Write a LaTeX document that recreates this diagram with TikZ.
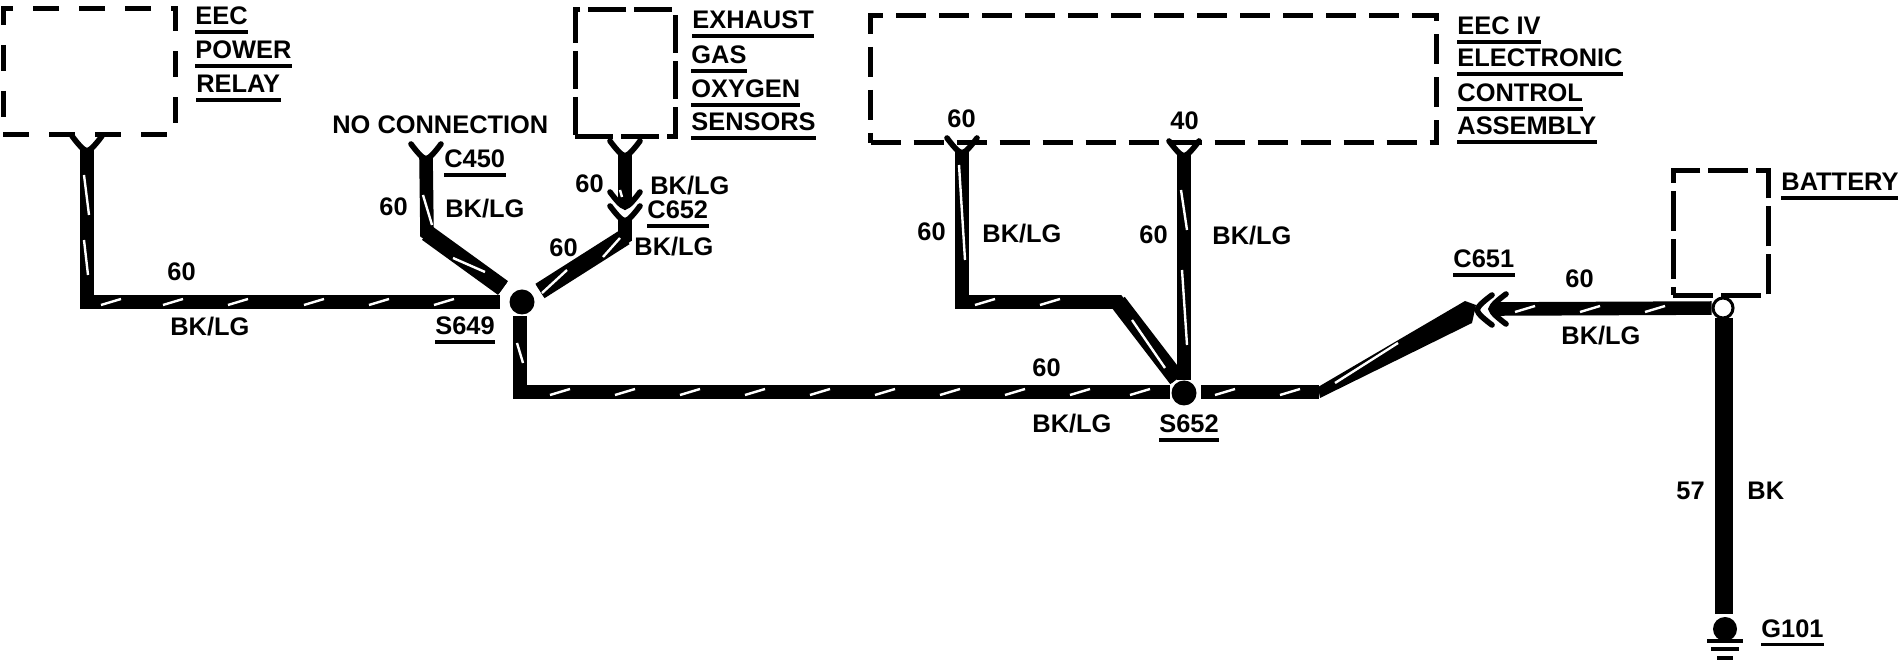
\documentclass[tikz,border=0pt]{standalone}
\usepackage{fontspec}
\setmainfont{Liberation Sans}
\tikzset{
  lbl/.style={font=\bfseries\fontsize{12.7}{14}\selectfont, anchor=base west, inner sep=0pt},
  ulbl/.style={lbl, inner ysep=3.4pt, text depth=0pt,
    append after command={(\tikzlastnode.south west) edge[draw, line width=1.7pt] (\tikzlastnode.south east)}},
  unit/.style={draw, line width=2.5pt, inner sep=0pt},
  wire/.style={line width=6.8pt},
  diag/.style={line width=8.5pt},
  stripe/.style={white, line width=1.2pt},
  dot/.style={circle, fill=black, inner sep=0pt, minimum size=12.5pt},
  fork/.pic={\draw[line width=2.8pt, line cap=round] (-15,-12) .. controls (-9,-4) and (-4,2) .. (0,3) .. controls (4,2) and (9,-4) .. (15,-12);}
}
\begin{document}
\begin{tikzpicture}[x=0.5pt, y=-0.5pt]
\useasboundingbox (0,0) rectangle (1898,672);

\node[unit, dash pattern=on 13pt off 10pt, minimum width=86pt, minimum height=63pt] (relay) at (89,72) {};
\node[unit, dash pattern=on 19pt off 4pt, minimum width=50pt, minimum height=63.5pt] (sensors) at (625,73.5) {};
\node[unit, dash pattern=on 15pt off 6.5pt, minimum width=283pt, minimum height=63.5pt] (eec) at (1153.5,79.5) {};
\node[unit, dash pattern=on 20pt off 4pt, minimum width=47.5pt, minimum height=62.5pt] (battery) at (1720.5,233) {};

\node[ulbl] (t1) at (195,25) {EEC};
\node[ulbl] (t2) at (195,59) {POWER};
\node[ulbl] (t3) at (196,93) {RELAY};
\node[ulbl] (t4) at (692,29) {EXHAUST};
\node[ulbl] (t5) at (691,64) {GAS};
\node[ulbl] (t6) at (691,98) {OXYGEN};
\node[ulbl] (t7) at (691,131) {SENSORS};
\node[ulbl] (t8) at (1457,35) {EEC IV};
\node[ulbl] (t9) at (1457,67) {ELECTRONIC};
\node[ulbl] (t10) at (1457,102) {CONTROL};
\node[ulbl] (t11) at (1457,135) {ASSEMBLY};
\node[ulbl] (t12) at (1781,191) {BATTERY};
\node[lbl] (nc) at (332,134) {NO CONNECTION};
\node[ulbl] (c450) at (444,168) {C450};
\node[ulbl] (c652) at (647,219) {C652};
\node[ulbl] (c651) at (1453,268) {C651};
\node[ulbl] (s649) at (435,335) {S649};
\node[ulbl] (s652) at (1159,433) {S652};
\node[ulbl] (g101) at (1761,637) {G101};

% numbers and colours
\node[lbl] (n1) at (167,281) {60};
\node[lbl] (b1) at (170,336) {BK/LG};
\node[lbl] (n2) at (379,216) {60};
\node[lbl] (b2) at (445,218) {BK/LG};
\node[lbl] (n3) at (575,193) {60};
\node[lbl] (b3) at (650,195) {BK/LG};
\node[lbl] (n4) at (549,257) {60};
\node[lbl] (b4) at (634,256) {BK/LG};
\node[lbl] (n5) at (947,128) {60};
\node[lbl] (n6) at (1170,130) {40};
\node[lbl] (n7) at (917,241) {60};
\node[lbl] (b7) at (982,243) {BK/LG};
\node[lbl] (n8) at (1139,244) {60};
\node[lbl] (b8) at (1212,245) {BK/LG};
\node[lbl] (n9) at (1032,377) {60};
\node[lbl] (b9) at (1032,433) {BK/LG};
\node[lbl] (n10) at (1565,288) {60};
\node[lbl] (b10) at (1561,345) {BK/LG};
\node[lbl] (n11) at (1676,500) {57};
\node[lbl] (b11) at (1747,500) {BK};

\node[dot] (j649) at (522,302) {};
\node[dot] (j652) at (1184,393) {};
\node[circle, draw, fill=white, line width=1.5pt, inner sep=0pt, minimum size=10pt] (jbat) at (1723,308) {};
\node[dot, minimum size=12pt] (gnd) at (1725,629) {};

\coordinate (relayend) at (87,148);
\coordinate (relaybend) at (87,302);
\coordinate (leftend) at (500,302);
\coordinate (c450end) at (426,156);
\coordinate (c450bend) at (427,233);
\coordinate (c450in) at (503,288);
\coordinate (upperend) at (625,153);
\coordinate (upperin) at (625,204);
\coordinate (lowerend) at (625,218);
\coordinate (lowerbend) at (625,237);
\coordinate (lowerin) at (540,291);
\coordinate (midstart) at (520,316);
\coordinate (midbend) at (520,392);
\coordinate (midend) at (1170,392);
\coordinate (eec60end) at (962,150);
\coordinate (eec60a) at (962,302);
\coordinate (eec60b) at (1118,302);
\coordinate (eec60in) at (1177,379);
\coordinate (eec40end) at (1184,153);
\coordinate (eec40in) at (1184,380);
\coordinate (rightstart) at (1201,392);
\coordinate (rightbend) at (1319,392);
\coordinate (rightin) at (1470,312);
\coordinate (c651end) at (1494,309);
\coordinate (batstart) at (1724,318);
\coordinate (batend) at (1724,614);

\draw[wire] (relayend) -- (relaybend) -- (leftend);
\draw[wire] (c450end) -- (c450bend) -- (c450in);
\draw[diag] (c450bend) -- (c450in);
\draw[wire] (upperend) -- (upperin);
\draw[wire] (lowerend) -- (lowerbend) -- (lowerin);
\draw[diag] (lowerbend) -- (lowerin);
\draw[wire] (midstart) -- (midbend) -- (midend);
\draw[wire] (eec60end) -- (eec60a) -- (eec60b) -- (eec60in);
\draw[diag] (eec60b) -- (eec60in);
\draw[wire] (eec40end) -- (eec40in);
\draw[wire] (rightstart) -- (rightbend);
\fill (rightbend) ++(-1,-5) -- (1465,301) -- (1476,305) -- (1472,323) -- (1320,398) -- cycle;
\draw[wire] (c651end) -- (jbat);
\draw[line width=9pt] (batstart) -- (batend);

\pic at (relayend) {fork};
\pic at (c450end) {fork};
\pic at (upperend) {fork};
\pic at (upperin) {fork};
\pic at (lowerend) {fork};
\pic at (eec60end) {fork};
\pic at (eec40end) {fork};
\pic[rotate=-90] at (1494,309) {fork};
\pic[rotate=-90] at (1480,310) {fork};

\foreach \x in {111,173,238,314,379,444}
  \draw[stripe] (\x-10,305) -- (\x+10,299);
\foreach \x in {560,625,690,755,820,885,950,1015,1080,1140}
  \draw[stripe] (\x-10,395) -- (\x+10,389);
\foreach \x in {985,1050}
  \draw[stripe] (\x-10,305) -- (\x+10,299);
\foreach \x in {1225,1290}
  \draw[stripe] (\x-10,395) -- (\x+10,389);
\foreach \x in {1525,1590,1655}
  \draw[stripe] (\x-10,312) -- (\x+10,306);
\draw[stripe] (84,175) -- (89,215);
\draw[stripe] (84,240) -- (88,275);
\draw[stripe] (423,195) -- (432,225);
\draw[stripe] (453,258) -- (485,272);
\draw[stripe] (542,293) -- (567,270);
\draw[stripe] (603,257) -- (620,238);
\draw[stripe] (620,190) -- (622,197);
\draw[stripe] (517,343) -- (523,363);
\draw[stripe] (959,165) -- (965,260);
\draw[stripe] (1181,190) -- (1187,230);
\draw[stripe] (1182,270) -- (1187,345);
\draw[stripe] (1132,320) -- (1165,368);
\draw[stripe] (1335,383) -- (1398,343);

% ground
\foreach \dy/\w in {12/18, 20/14, 29/8}
  \draw[line width=2pt] (gnd) ++(-\w,\dy) -- ++(2*\w,0);
\end{tikzpicture}
\end{document}
